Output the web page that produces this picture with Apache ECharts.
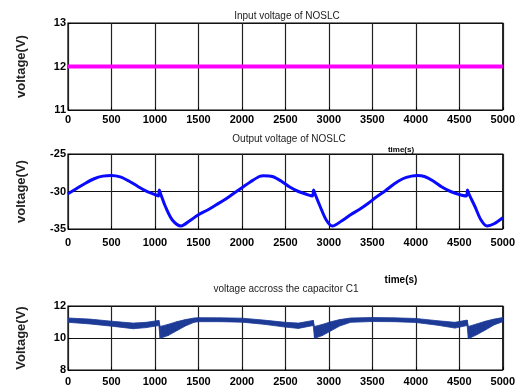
<!DOCTYPE html>
<html>
<head>
<meta charset="utf-8">
<script src="https://cdn.jsdelivr.net/npm/echarts@6/dist/echarts.min.js"></script>
<style>
  html, body { margin: 0; padding: 0; background: #fff; }
  #chart { width: 518px; height: 392px; }
</style>
</head>
<body>
<div id="chart"></div>
<script>
// input voltage (flat 12 V)
const inputTime = [0, 1000, 2000, 3000, 4000, 5000];
const inputVolt = [12, 12, 12, 12, 12, 12];

// output voltage
const outTime = [0, 100, 200, 300, 400, 500, 600, 700, 800, 900, 1000, 1040, 1050, 1065, 1120, 1200, 1300, 1400, 1500, 1600,
  1700, 1800, 1900, 2000, 2100, 2200, 2250, 2350, 2450, 2550, 2650, 2750, 2810, 2825, 2840, 2900, 2970, 3040, 3150, 3250,
  3350, 3450, 3550, 3650, 3750, 3850, 3950, 4020, 4100, 4200, 4300, 4400, 4500, 4580, 4595, 4610, 4680, 4750, 4820, 4900, 5000];
const outVolt = [-30.3, -29.6, -28.9, -28.3, -27.95, -27.85, -28.05, -28.6, -29.3, -29.95, -30.4, -30.6, -29.8, -30.3, -32.0, -33.8, -34.6, -33.9, -33.1, -32.5,
  -31.8, -31.1, -30.3, -29.5, -28.7, -28.0, -27.9, -28.0, -28.6, -29.4, -30.0, -30.4, -30.6, -29.8, -30.3, -32.0, -33.8, -34.6, -33.9, -33.1,
  -32.4, -31.6, -30.7, -29.9, -29.0, -28.3, -27.95, -27.85, -28.0, -28.6, -29.4, -30.0, -30.4, -30.6, -29.8, -30.3, -32.0, -33.8, -34.6, -34.3, -33.5];

// capacitor C1 voltage: ripple band, upper and lower edges
const capTime = [0, 250, 500, 750, 900, 1045, 1060, 1150, 1250, 1350, 1450, 1500, 1750, 2000, 2250, 2500, 2650, 2820, 2835, 2925,
  3025, 3125, 3250, 3500, 3750, 4000, 4250, 4450, 4590, 4605, 4700, 4800, 4900, 5000];
const capUpper = [11.25, 11.18, 11.05, 10.93, 10.98, 11.10, 10.72, 10.85, 11.02, 11.15, 11.25, 11.27, 11.26, 11.24, 11.12, 10.98, 10.93, 11.10, 10.72, 10.85,
  11.02, 11.15, 11.25, 11.28, 11.26, 11.22, 11.08, 10.98, 11.12, 10.72, 10.88, 11.05, 11.18, 11.28];
const capLower = [10.98, 10.88, 10.74, 10.58, 10.65, 10.78, 9.98, 10.15, 10.45, 10.75, 10.98, 11.02, 11.02, 10.99, 10.86, 10.68, 10.60, 10.78, 9.98, 10.15,
  10.45, 10.75, 10.98, 11.03, 11.02, 10.97, 10.80, 10.62, 10.78, 9.95, 10.20, 10.50, 10.82, 11.02];

const tickFont = '"Liberation Sans", Arial, sans-serif';
const bandColor = '#1c3a96';

const pairs = (xs, ys) => xs.map((x, i) => [x, ys[i]]);

// one quad per step of the band
const capSegments = capTime.slice(0, -1).map((t, i) =>
  [t, capLower[i], capUpper[i], capTime[i + 1], capLower[i + 1], capUpper[i + 1]]);

const chart = echarts.init(document.getElementById('chart'));

const gridBase = { left: 68, right: 14, show: true, borderColor: '#000', borderWidth: 1.2, backgroundColor: 'transparent' };

function xAxisFor(idx) {
  return {
    type: 'value', gridIndex: idx, min: 0, max: 5000, interval: 500,
    axisLine: { show: false },
    axisTick: { inside: true, length: 3, lineStyle: { color: '#000' } },
    axisLabel: {
      color: '#000', fontFamily: tickFont, fontWeight: 'bold', fontSize: 11,
      margin: [4, 8, 6][idx], formatter: v => String(v)
    },
    splitLine: { show: true, lineStyle: { color: '#222', width: 1.2 } }
  };
}

function yAxisFor(idx, min, max, interval, name) {
  return {
    type: 'value', gridIndex: idx, min: min, max: max, interval: interval,
    name: name, nameLocation: 'middle', nameGap: 40,
    nameTextStyle: { color: '#222', fontFamily: tickFont, fontWeight: 'bold', fontSize: 13 },
    axisLine: { show: false },
    axisTick: { show: true, inside: true, length: 3, lineStyle: { color: '#000' } },
    axisLabel: { color: '#000', fontFamily: tickFont, fontWeight: 'bold', fontSize: 11, margin: 2 },
    splitLine: { show: true, lineStyle: { color: '#111', width: 1.2 } }
  };
}

const titleStyle = (text, x, y) => ({
  type: 'text', x: x, y: y,
  style: { text: text, fill: '#222', font: '10px ' + tickFont, textAlign: 'center', textVerticalAlign: 'middle' }
});

const option = {
  backgroundColor: '#fff',
  animation: false,
  grid: [
    Object.assign({ top: 23, height: 87 }, gridBase),
    Object.assign({ top: 154, height: 75 }, gridBase),
    Object.assign({ top: 306, height: 64 }, gridBase)
  ],
  xAxis: [xAxisFor(0), xAxisFor(1), xAxisFor(2)],
  yAxis: [
    yAxisFor(0, 11, 13, 1, 'voltage(V)'),
    yAxisFor(1, -35, -25, 5, 'voltage(V)'),
    yAxisFor(2, 8, 12, 2, 'Voltage(V)')
  ],
  graphic: [
    titleStyle('Input voltage of NOSLC', 287, 16),
    titleStyle('Output voltage of NOSLC', 289, 139),
    { type: 'text', x: 401, y: 150, style: { text: 'time(s)', fill: '#000', font: 'bold 8px ' + tickFont, textAlign: 'center', textVerticalAlign: 'middle' } },
    titleStyle('voltage accross the capacitor C1', 286, 289),
    { type: 'text', x: 401, y: 280, style: { text: 'time(s)', fill: '#000', font: 'bold 10px ' + tickFont, textAlign: 'center', textVerticalAlign: 'middle' } }
  ],
  series: [
    {
      name: 'input', type: 'line', xAxisIndex: 0, yAxisIndex: 0,
      data: pairs(inputTime, inputVolt), showSymbol: false,
      lineStyle: { color: '#ff00ff', width: 4 }
    },
    {
      name: 'output', type: 'line', xAxisIndex: 1, yAxisIndex: 1,
      data: pairs(outTime, outVolt), showSymbol: false, smooth: 0.3,
      lineStyle: { color: '#0a0aff', width: 3 }
    },
    {
      name: 'capacitor', type: 'custom', xAxisIndex: 2, yAxisIndex: 2,
      data: capSegments,
      encode: { x: [0, 3], y: [1, 2, 4, 5] },
      clip: true,
      renderItem: (params, api) => {
        const p0u = api.coord([api.value(0), api.value(2)]);
        const p1u = api.coord([api.value(3), api.value(5)]);
        const p1l = api.coord([api.value(3), api.value(4)]);
        const p0l = api.coord([api.value(0), api.value(1)]);
        return {
          type: 'polygon',
          shape: { points: [p0u, p1u, p1l, p0l] },
          style: { fill: bandColor, stroke: bandColor, lineWidth: 0.8 }
        };
      }
    }
  ]
};

chart.setOption(option);
window.addEventListener('resize', () => chart.resize());
</script>
</body>
</html>
